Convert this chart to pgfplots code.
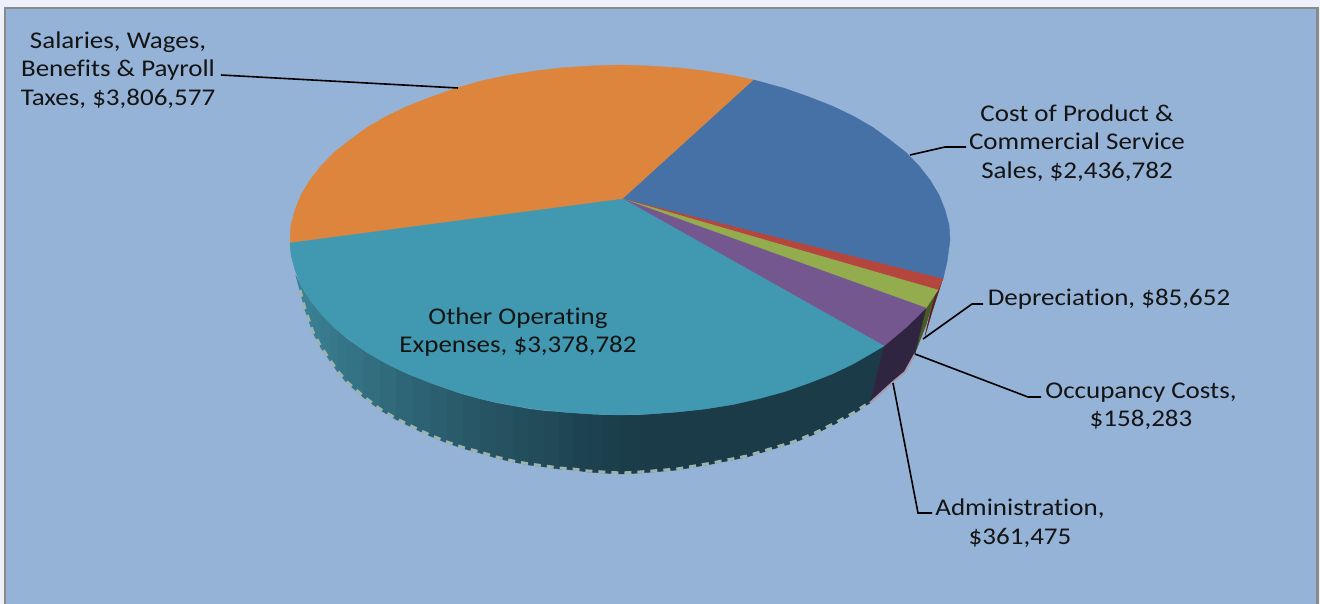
\documentclass[border=0pt]{standalone}
\usepackage{pgfplots}
\pgfplotsset{compat=1.18}
\usepackage{fontspec}
\setmainfont[FakeStretch=1.125,Ligatures=NoCommon]{Carlito}
\definecolor{outer}{HTML}{EFF1FA}
\definecolor{frame}{HTML}{8A8A8A}
\definecolor{bg}{HTML}{95B3D7}
\definecolor{orangeS}{HTML}{DD853C}
\definecolor{blueS}{HTML}{4571A7}
\definecolor{redS}{HTML}{B4463E}
\definecolor{greenS}{HTML}{93AC4E}
\definecolor{purpleS}{HTML}{75578F}
\definecolor{tealS}{HTML}{4099B1}
\definecolor{wallL}{HTML}{3B8195}
\definecolor{wallR}{HTML}{1A3B47}
\definecolor{purpleW}{HTML}{2F2540}
\definecolor{greenW}{HTML}{4A5A25}
\definecolor{redW}{HTML}{5A2020}
\definecolor{rimT}{HTML}{9DB3B0}
\definecolor{rimP}{HTML}{A99BB0}
\newcommand{\seg}[2]{\addplot[fill=#1,draw=#1,line width=.4pt] coordinates {#2} -- cycle;}
\newcommand{\strip}[7]{\seg{wallR!#1!wallL}{(#2,#3)(#5,#6)(#5,#7)(#2,#4)}}
\newcommand{\lead}[1]{\addplot[black,line width=1.6pt] coordinates {#1};}
\newcommand{\lab}[3]{\node[align=center,text=black!92,inner sep=0pt,font=\fontsize{24}{28.5}\selectfont] at (axis cs:#1,#2) {#3};}
\begin{document}
\begin{tikzpicture}
\begin{axis}[
  width=1320pt,height=604pt,scale only axis,
  xmin=0,xmax=1320,ymin=0,ymax=604,y dir=reverse,
  hide axis,
]
% backdrop
\seg{outer}{(0,0)(1320,0)(1320,604)(0,604)}
\seg{frame}{(4,7)(1318,7)(1318,604)(4,604)}
\seg{bg}{(6,9)(1315,9)(1315,604)(6,604)}
% teal side wall
\strip{0}{296}{276}{276}{305}{293}{310}
\strip{3}{305}{293}{310}{313}{303}{333}
\strip{6}{313}{303}{333}{321}{313}{348}
\strip{9}{321}{313}{348}{330}{323}{361}
\strip{13}{330}{323}{361}{338}{331}{372.5}
\strip{17}{338}{331}{372.5}{347}{339}{383}
\strip{21}{347}{339}{383}{363}{350}{397}
\strip{27}{363}{350}{397}{380}{360}{410}
\strip{33}{380}{360}{410}{396}{368}{419.5}
\strip{38}{396}{368}{419.5}{413}{376}{428}
\strip{44}{413}{376}{428}{430}{383}{436}
\strip{49}{430}{383}{436}{447}{389}{443}
\strip{54}{447}{389}{443}{463}{394.5}{448.5}
\strip{59}{463}{394.5}{448.5}{480}{399}{453}
\strip{64}{480}{399}{453}{496}{403}{458}
\strip{68}{496}{403}{458}{513}{406}{462}
\strip{72}{513}{406}{462}{529}{409}{465}
\strip{76}{529}{409}{465}{545}{411}{467}
\strip{80}{545}{411}{467}{559}{412}{469}
\strip{84}{559}{412}{469}{573}{413}{470}
\strip{88}{573}{413}{470}{588}{414}{472}
\strip{91}{588}{414}{472}{603}{415}{473}
\strip{94}{603}{415}{473}{621}{415}{474}
\strip{97}{621}{415}{474}{640}{415}{473}
\seg{wallR}{(640,415)(677,412)(712,408)(747,401)(770,395)(793,388)(815,379)(837,369)(855,359)(884,346)(870,403)(855,413)(837,423)(815,434)(793,443)(770,450)(747,457)(712,464)(677,470)(640,473)}
% dark wall of the small slices
\seg{redW}{(942,281)(935,292)(925,336)(932,312)}
\seg{greenW}{(926,308)(936,291)(926,325)(915,353)}
\seg{purpleW}{(884,346)(926,308)(915,353)(905,372)(893,382)(870,403)}
% rim
\addplot[draw=rimT,line width=3pt,dash pattern=on 7pt off 6pt] coordinates {(300,290)(305,309)(313,332)(321,347)(330,360)(338,371.5)(347,382)(363,396)(380,409)(396,418.5)(413,427)(430,435)(447,442)(463,447.5)(480,452)(496,457)(513,461)(529,464)(545,466)(559,468)(573,469)(588,471)(603,472)(621,473)(640,472)(677,469)(712,463)(747,456)(770,449)(793,442)(815,433)(837,422)(855,412)(870,402)};
\addplot[draw=rimP,line width=2pt] coordinates {(870,403)(893,382)(905,372)(915,354)};
% top face
\seg{orangeS}{(623,199)(754,80)(733,75.5)(705,71)(677,67.7)(649,66)(620,65)(591,66)(563,67.7)(535,71)(507,75.5)(481,81)(455,88.5)(431,97)(408,106)(387,116)(367,127.5)(350,140)(334,152.5)(321,166)(310,180)(301,195)(295,210)(291,225)(290,243)}
\seg{blueS}{(623,199)(943,279)(947,262)(950,240)(949,225)(945,210)(939,195)(930,180)(919,166)(906,152.5)(890,140)(873,127.5)(853,116)(832,106)(809,97)(785,88.5)(754,80)}
\seg{redS}{(623,199)(938,290)(943,279)}
\seg{greenS}{(623,199)(926,308)(938,290)}
\seg{purpleS}{(623,199)(884,346)(906,327.5)(926,308)}
\seg{tealS}{(623,199)(290,243)(291,255)(295,270)(301,285)(310,300)(321,314)(334,327.5)(350,340)(367,352.5)(387,364)(408,374)(431,383)(455,391.5)(481,399)(507,404.5)(535,409)(563,412)(591,414)(620,415)(649,414)(677,412)(705,409)(733,404.5)(759,398.6)(785,391.5)(809,383)(832,374)(853,364)(884,346)}
% leader lines
\lead{(221,75)(458,88)}
\lead{(910,155)(945,147)(966,147)}
\lead{(923,339)(972,304)(983,304)}
\lead{(915,354)(1028,397)(1041,397)}
\lead{(893,383)(918,513)(932,513)}
% labels
\lab{118}{70}{Salaries, Wages,\\Benefits \& Payroll\\Taxes, \$3,806,577}
\lab{1077}{143}{Cost of Product \&\\Commercial Service\\Sales, \$2,436,782}
\lab{1109}{299}{Depreciation, \$85,652}
\lab{1141}{406}{Occupancy Costs,\\\$158,283}
\lab{1020}{523}{Administration,\\\$361,475}
\lab{518}{332}{Other Operating\\Expenses, \$3,378,782}
\end{axis}
\end{tikzpicture}
\end{document}
